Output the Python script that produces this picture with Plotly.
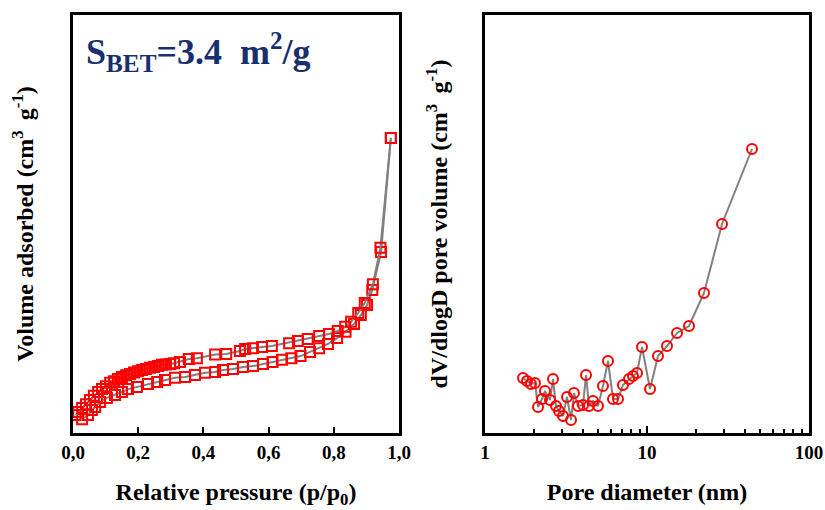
import plotly.graph_objects as go

# ---------------- Data ----------------
# N2 isotherm (arbitrary volume units)
ads_p = [0.028, 0.046, 0.058, 0.068, 0.083, 0.104, 0.129, 0.150, 0.169, 0.196,
         0.230, 0.258, 0.282, 0.313, 0.344, 0.374, 0.405, 0.436, 0.460, 0.491,
         0.521, 0.552, 0.583, 0.612, 0.641, 0.670, 0.698, 0.727, 0.755, 0.782,
         0.810, 0.836, 0.862, 0.883, 0.902, 0.918, 0.945, 0.975]
ads_v = [0.33, 0.43, 0.55, 0.62, 0.74, 0.84, 0.91, 0.98, 1.05, 1.10,
         1.17, 1.22, 1.27, 1.32, 1.34, 1.39, 1.44, 1.46, 1.51, 1.53,
         1.58, 1.60, 1.65, 1.70, 1.75, 1.79, 1.84, 1.94, 2.03, 2.13,
         2.27, 2.42, 2.61, 2.82, 3.06, 3.42, 4.33, 7.06]

des_p = [0.975, 0.943, 0.920, 0.895, 0.875, 0.853, 0.835, 0.812, 0.785, 0.755,
         0.720, 0.690, 0.663, 0.610, 0.580, 0.552, 0.528, 0.512, 0.470, 0.436,
         0.380, 0.355, 0.328, 0.310, 0.298, 0.285, 0.273, 0.261, 0.249, 0.236,
         0.224, 0.212, 0.199, 0.187, 0.175, 0.163, 0.150, 0.138, 0.126, 0.114,
         0.101, 0.089, 0.077, 0.064, 0.052, 0.040, 0.028, 0.016, 0.008]
des_v = [7.06, 4.43, 3.56, 3.11, 2.87, 2.66, 2.54, 2.44, 2.37, 2.32,
         2.25, 2.20, 2.15, 2.08, 2.06, 2.03, 2.01, 1.96, 1.89, 1.88,
         1.79, 1.77, 1.70, 1.67, 1.65, 1.64, 1.63, 1.60, 1.58, 1.56,
         1.53, 1.51, 1.48, 1.45, 1.41, 1.38, 1.34, 1.29, 1.24, 1.20,
         1.12, 1.05, 0.98, 0.89, 0.79, 0.69, 0.60, 0.50, 0.43]

# BJH pore size distribution (arbitrary units)
pore_d = [1.717, 1.816, 1.923, 2.035, 2.124, 2.248, 2.346, 2.519, 2.629, 2.744,
          2.862, 3.030, 3.208, 3.396, 3.543, 3.751, 4.027, 4.203, 4.385, 4.642,
          4.984, 5.350, 5.743, 6.168, 6.622, 7.109, 7.743, 8.197, 8.678, 9.314,
          10.44, 11.69, 13.29, 15.32, 18.17, 22.48, 29.04, 44.48]
pore_v = [0.0055, 0.0052, 0.0049, 0.0050, 0.0026, 0.0034, 0.0042, 0.0033, 0.0054, 0.0027,
          0.0022, 0.0017, 0.0036, 0.0013, 0.0040, 0.0027, 0.0028, 0.0058, 0.0027, 0.0032,
          0.0027, 0.0047, 0.0072, 0.0034, 0.0034, 0.0048, 0.0054, 0.0057, 0.0060, 0.0086,
          0.0044, 0.0077, 0.0087, 0.0100, 0.0107, 0.0140, 0.0209, 0.0284]

x_ticks = [0.0, 0.2, 0.4, 0.6, 0.8, 1.0]
x_ticktext = ["0,0", "0,2", "0,4", "0,6", "0,8", "1,0"]
log_ticks = [1, 10, 100]
log_minor = [2, 3, 4, 5, 6, 7, 8, 9, 20, 30, 40, 50, 60, 70, 80, 90]

# ---------------- Style ----------------
FONT = "Liberation Serif"
RED = "#FF0000"
GRAY = "#808080"
NAVY = "#172F6E"

fig = go.Figure()

for px_, v_ in [(ads_p, ads_v), (des_p, des_v)]:
    fig.add_trace(go.Scatter(
        x=px_, y=v_, mode="lines+markers", xaxis="x", yaxis="y",
        line=dict(color=GRAY, width=2),
        marker=dict(symbol="square-open", size=10, color=RED, line=dict(width=2, color=RED)),
        showlegend=False, hoverinfo="x+y"))

fig.add_trace(go.Scatter(
    x=pore_d, y=pore_v, mode="lines+markers", xaxis="x2", yaxis="y2",
    line=dict(color=GRAY, width=2),
    marker=dict(symbol="circle-open", size=10, color=RED, line=dict(width=2, color=RED)),
    showlegend=False, hoverinfo="x+y"))

W, H = 825, 510
ydom = [(H - 433) / H, (H - 15) / H]

axis_common = dict(showline=True, linecolor="black", linewidth=2.5, mirror=True,
                   showgrid=False, zeroline=False, automargin=False)
TITLE_FONT = dict(family=FONT, size=24, weight="bold", color="black")
TICK_FONT = dict(family=FONT, size=19, weight="bold", color="black")

fig.update_layout(
    width=W, height=H,
    margin=dict(l=0, r=0, t=0, b=0),
    paper_bgcolor="white", plot_bgcolor="white",
    font=dict(family=FONT, color="black"),
    xaxis=dict(domain=[73 / W, 399 / W], range=[0, 1], tickmode="array",
               tickvals=x_ticks, ticktext=x_ticktext, ticks="inside", ticklen=6,
               tickwidth=2, tickcolor="black", tickfont=TICK_FONT,
               title=dict(text="Relative pressure (p/p<sub>0</sub>)",
                          font=TITLE_FONT, standoff=22),
               **axis_common),
    yaxis=dict(domain=ydom, range=[0, 10], showticklabels=False, ticks="",
               title=dict(text="Volume adsorbed (cm<sup>3 </sup> g<sup>-1</sup>)",
                          font=TITLE_FONT, standoff=30),
               **axis_common),
    xaxis2=dict(domain=[485 / W, 809 / W], type="log", range=[0, 2], anchor="y2",
                tickmode="array", tickvals=log_ticks, ticktext=["1", "10", "100"],
                ticks="inside", ticklen=7, tickwidth=2, tickcolor="black",
                minor=dict(tickmode="array", tickvals=log_minor, ticks="inside",
                           ticklen=4, tickwidth=2, tickcolor="black", showgrid=False),
                tickfont=TICK_FONT,
                title=dict(text="Pore diameter (nm)", font=TITLE_FONT, standoff=22),
                **axis_common),
    yaxis2=dict(domain=ydom, range=[0, 0.0418], anchor="x2", showticklabels=False, ticks="",
                title=dict(text="dV/dlogD pore volume (cm<sup>3 </sup> g<sup>-1</sup>)",
                           font=TITLE_FONT, standoff=28),
                **axis_common),
    annotations=[dict(
        text="S<sub>BET</sub>=3.4  m<sup>2</sup>/g",
        xref="paper", yref="paper", x=84 / W, y=(H - 52) / H,
        xanchor="left", yanchor="middle", showarrow=False,
        font=dict(family=FONT, size=36, weight="bold", color=NAVY))],
)

fig.write_html("out.html")
